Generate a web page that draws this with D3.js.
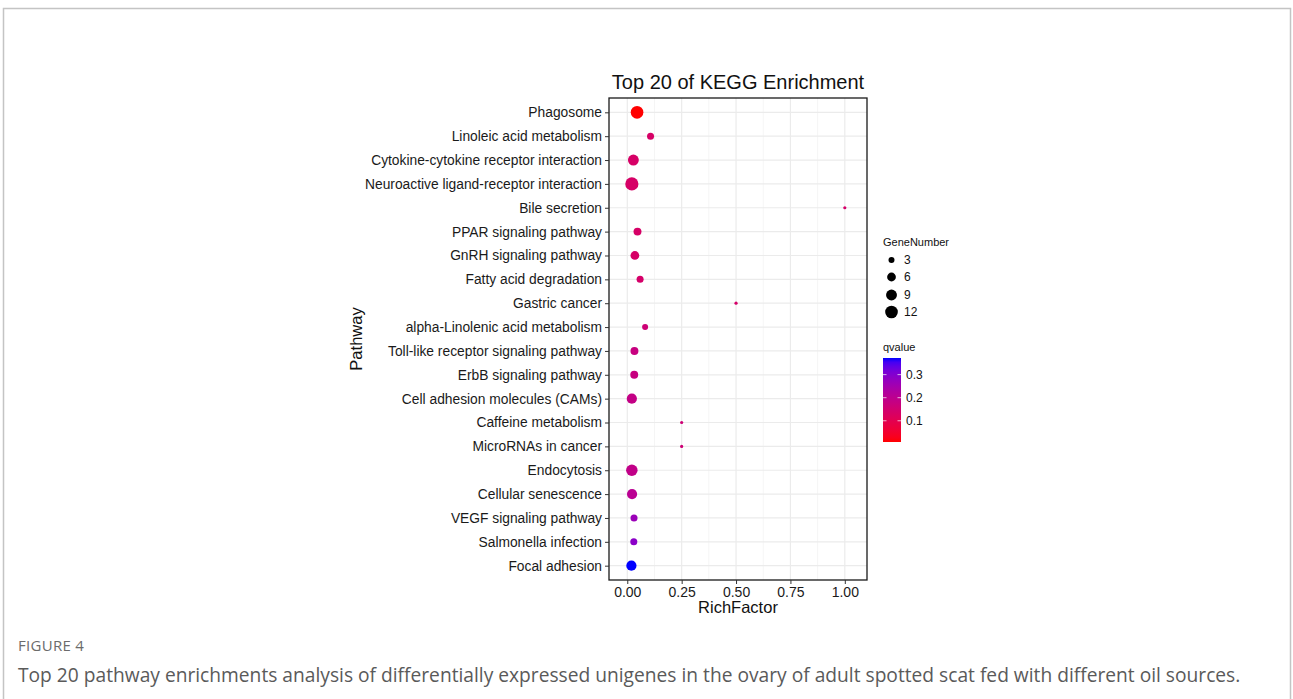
<!DOCTYPE html>
<html>
<head>
<meta charset="utf-8">
<script src="https://cdn.jsdelivr.net/npm/d3@7/dist/d3.min.js"></script>
<style>
    body { margin: 0; background: #fff; }
    .axis text { font-family: "Liberation Sans", Arial, sans-serif; fill: #1a1a1a; }
    .axis line { stroke: #333; }
    .axis path { display: none; }
</style>
</head>
<body>
<div id="chart-area"></div>
<script>

// DATA (top to bottom)
var pathways = ["Phagosome", "Linoleic acid metabolism", "Cytokine-cytokine receptor interaction",
    "Neuroactive ligand-receptor interaction", "Bile secretion", "PPAR signaling pathway",
    "GnRH signaling pathway", "Fatty acid degradation", "Gastric cancer",
    "alpha-Linolenic acid metabolism", "Toll-like receptor signaling pathway", "ErbB signaling pathway",
    "Cell adhesion molecules (CAMs)", "Caffeine metabolism", "MicroRNAs in cancer", "Endocytosis",
    "Cellular senescence", "VEGF signaling pathway", "Salmonella infection", "Focal adhesion"];

var richFactor = [0.045, 0.107, 0.028, 0.021, 1.0, 0.047, 0.035, 0.059, 0.5, 0.082,
    0.033, 0.032, 0.021, 0.25, 0.25, 0.021, 0.022, 0.031, 0.030, 0.019];

var geneNumber = [12, 4, 9, 13, 1, 5, 6, 4, 1, 3, 5, 5, 8, 1, 1, 10, 8, 4, 4, 8];

var qvalue = [0.008, 0.135, 0.135, 0.135, 0.14, 0.135, 0.135, 0.14, 0.14, 0.16,
    0.175, 0.175, 0.185, 0.16, 0.16, 0.19, 0.205, 0.265, 0.29, 0.372];

var xTicks = [0, 0.25, 0.5, 0.75, 1];
var sizeBreaks = [3, 6, 9, 12];
var qBreaks = [0.1, 0.2, 0.3];

var data = pathways.map(function(p, i) {
    return {pathway: p, rich: richFactor[i], genes: geneNumber[i], q: qvalue[i]};
});

// SVG drawing area
var W = 1293, H = 699;
var panel = {left: 609, right: 867, top: 98, bottom: 580};

var svg = d3.select("#chart-area").append("svg")
    .attr("width", W)
    .attr("height", H)
    .style("font-family", "'Liberation Sans', Arial, sans-serif");

// page frame
svg.append("rect")
    .attr("x", 3.5).attr("y", 8.5)
    .attr("width", W - 6).attr("height", H + 20)
    .attr("fill", "none")
    .attr("stroke", "#c4c4c4")
    .attr("stroke-width", 1.5);

//SCALES
var x = d3.scaleLinear()
    .domain([-0.084, 1.102])
    .range([panel.left, panel.right]);

var y = d3.scalePoint()
    .domain(pathways)
    .range([panel.top, panel.bottom])
    .padding(0.6);

var size = d3.scaleSqrt()
    .domain([1, 13])
    .range([1.6, 6.6]);

var qMin = d3.min(qvalue), qMax = d3.max(qvalue);
var color = d3.scaleLinear()
    .domain([qMin, qMax])
    .range(["#ff0000", "#0000ff"])
    .interpolate(d3.interpolateLab);

//GRID
var grid = svg.append("g");

var minor = d3.range(-0.125, 1.2, 0.25).filter(function(d) {
    return d > x.domain()[0] && d < x.domain()[1];
});

grid.selectAll(".minor")
    .data(minor)
    .enter().append("line")
    .attr("x1", function(d) { return x(d); })
    .attr("x2", function(d) { return x(d); })
    .attr("y1", panel.top).attr("y2", panel.bottom)
    .attr("stroke", "#f3f3f3")
    .attr("stroke-width", 0.8);

grid.selectAll(".vmajor")
    .data(xTicks)
    .enter().append("line")
    .attr("x1", function(d) { return x(d); })
    .attr("x2", function(d) { return x(d); })
    .attr("y1", panel.top).attr("y2", panel.bottom)
    .attr("stroke", "#ebebeb")
    .attr("stroke-width", 1.2);

grid.selectAll(".hmajor")
    .data(pathways)
    .enter().append("line")
    .attr("x1", panel.left).attr("x2", panel.right)
    .attr("y1", function(d) { return y(d); })
    .attr("y2", function(d) { return y(d); })
    .attr("stroke", "#ebebeb")
    .attr("stroke-width", 1.2);

//POINTS
svg.selectAll(".dot")
    .data(data)
    .enter().append("circle")
    .attr("class", "dot")
    .attr("cx", function(d) { return x(d.rich); })
    .attr("cy", function(d) { return y(d.pathway); })
    .attr("r", function(d) { return size(d.genes); })
    .attr("fill", function(d) { return color(d.q); });

// panel border
svg.append("rect")
    .attr("x", panel.left).attr("y", panel.top)
    .attr("width", panel.right - panel.left)
    .attr("height", panel.bottom - panel.top)
    .attr("fill", "none")
    .attr("stroke", "#1a1a1a")
    .attr("stroke-width", 1.3);

//AXES
var xAxis = d3.axisBottom(x)
    .tickValues(xTicks)
    .tickFormat(d3.format(".2f"))
    .tickSize(4)
    .tickPadding(3);

svg.append("g")
    .attr("class", "axis x-axis")
    .attr("transform", "translate(0," + panel.bottom + ")")
    .call(xAxis)
    .selectAll("text")
    .style("font-size", "14px");

var yAxis = d3.axisLeft(y)
    .tickSize(4)
    .tickPadding(3);

svg.append("g")
    .attr("class", "axis y-axis")
    .attr("transform", "translate(" + panel.left + ",0)")
    .call(yAxis)
    .selectAll("text")
    .style("font-size", "13.8px");

// titles
svg.append("text")
    .attr("x", (panel.left + panel.right) / 2)
    .attr("y", 89)
    .style("text-anchor", "middle")
    .style("font-size", "20px")
    .attr("fill", "#111")
    .text("Top 20 of KEGG Enrichment");

svg.append("text")
    .attr("x", (panel.left + panel.right) / 2)
    .attr("y", 613)
    .style("text-anchor", "middle")
    .style("font-size", "16.5px")
    .attr("fill", "#111")
    .text("RichFactor");

svg.append("text")
    .attr("transform", "translate(362," + ((panel.top + panel.bottom) / 2) + ") rotate(-90)")
    .style("text-anchor", "middle")
    .style("font-size", "16.5px")
    .attr("fill", "#111")
    .text("Pathway");

//LEGEND: size
var lg = svg.append("g").attr("transform", "translate(883,0)");

lg.append("text")
    .attr("x", 0).attr("y", 246)
    .style("font-size", "11px")
    .attr("fill", "#111")
    .text("GeneNumber");

var sizeY = [260, 277, 295, 312];
lg.selectAll(".skey")
    .data(sizeBreaks)
    .enter().append("circle")
    .attr("cx", 8.5)
    .attr("cy", function(d, i) { return sizeY[i]; })
    .attr("r", function(d) { return size(d); })
    .attr("fill", "#000");

lg.selectAll(".slab")
    .data(sizeBreaks)
    .enter().append("text")
    .attr("x", 21)
    .attr("y", function(d, i) { return sizeY[i] + 4; })
    .style("font-size", "12px")
    .attr("fill", "#111")
    .text(function(d) { return d; });

//LEGEND: colour bar
lg.append("text")
    .attr("x", 0).attr("y", 351)
    .style("font-size", "11px")
    .attr("fill", "#111")
    .text("qvalue");

var barTop = 358, barBottom = 442, barW = 18;
var qy = d3.scaleLinear().domain([qMin, qMax]).range([barBottom, barTop]);

var defs = svg.append("defs");
var grad = defs.append("linearGradient")
    .attr("id", "qgrad")
    .attr("x1", 0).attr("y1", 1).attr("x2", 0).attr("y2", 0);

grad.selectAll("stop")
    .data(d3.range(0, 1.0001, 0.05))
    .enter().append("stop")
    .attr("offset", function(d) { return d; })
    .attr("stop-color", function(d) { return color(qMin + d * (qMax - qMin)); });

lg.append("rect")
    .attr("x", 0).attr("y", barTop)
    .attr("width", barW).attr("height", barBottom - barTop)
    .attr("fill", "url(#qgrad)");

qBreaks.forEach(function(b) {
    lg.append("line")
        .attr("x1", 0).attr("x2", 3.5)
        .attr("y1", qy(b)).attr("y2", qy(b))
        .attr("stroke", "#fff").attr("stroke-opacity", 0.7);
    lg.append("line")
        .attr("x1", barW - 3.5).attr("x2", barW)
        .attr("y1", qy(b)).attr("y2", qy(b))
        .attr("stroke", "#fff").attr("stroke-opacity", 0.7);
    lg.append("text")
        .attr("x", 23)
        .attr("y", qy(b) + 4)
        .style("font-size", "12px")
        .attr("fill", "#111")
        .text(d3.format(".1f")(b));
});

// caption
svg.append("text")
    .attr("x", 18).attr("y", 651)
    .style("font-family", "'Open Sans', sans-serif")
    .style("font-size", "15px")
    .style("letter-spacing", "0.3px")
    .attr("fill", "#6b6b6b")
    .text("FIGURE 4");

svg.append("text")
    .attr("x", 18).attr("y", 682)
    .style("font-family", "'Open Sans', sans-serif")
    .style("font-size", "19.2px")
    .attr("fill", "#5a5a5a")
    .text("Top 20 pathway enrichments analysis of differentially expressed unigenes in the ovary of adult spotted scat fed with different oil sources.");

</script>
</body>
</html>
